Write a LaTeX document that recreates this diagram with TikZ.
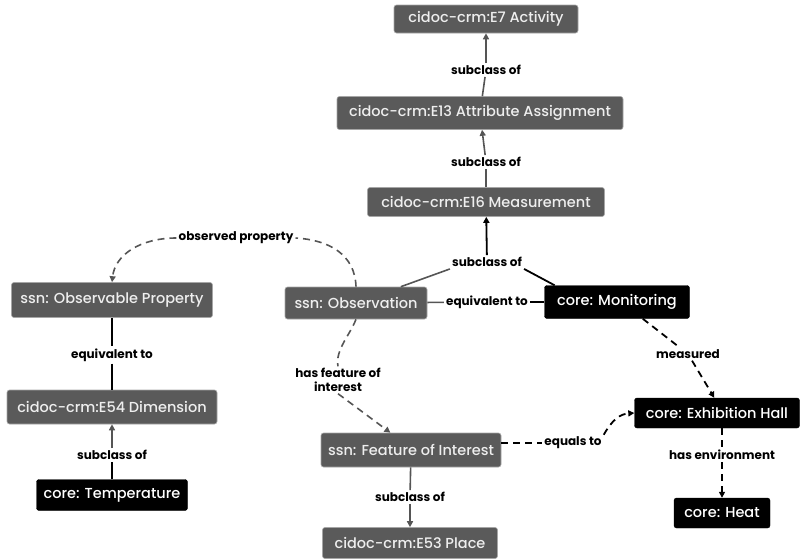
\documentclass[tikz,border=0pt]{standalone}
\usepackage{fontspec}
\setmainfont{Poppins}
\newfontfamily\nodefont{Poppins Medium}
\usetikzlibrary{arrows.meta,calc}
\definecolor{nodegray}{HTML}{5A5A5A}
\definecolor{edgegray}{HTML}{555555}
\definecolor{txtlight}{HTML}{EEEEEE}
\tikzset{
  gbox/.style={draw=gray!70, line width=0.6pt, fill=nodegray, text=txtlight, rounded corners=2.5pt, inner sep=0pt, font=\nodefont\fontsize{14.5}{16}\selectfont},
  bbox/.style={draw=black, fill=black, text=white, rounded corners=2.5pt, inner sep=0pt, font=\nodefont\fontsize{14.5}{16}\selectfont},
  lab/.style={font=\fontsize{12}{13.5}\selectfont\bfseries, inner sep=2pt, align=center},
  gline/.style={draw=edgegray, line width=1.6pt},
  bline/.style={draw=black, line width=1.8pt},
  garr/.style={gline, -{Triangle[length=6pt,width=6pt]}},
  barr/.style={bline, -{Triangle[length=6pt,width=6pt]}},
  gdash/.style={gline, dash pattern=on 7pt off 5pt},
  bdash/.style={bline, dash pattern=on 7pt off 5pt},
}
\begin{document}
\begin{tikzpicture}[x=1pt,y=-1pt]
\useasboundingbox (0,0) rectangle (804,560);
% nodes
\node[gbox, minimum width=184pt, minimum height=28pt] (e7) at (486,19) {cidoc-crm:E7 Activity};
\node[gbox, minimum width=286pt, minimum height=33pt] (e13) at (480,113) {cidoc-crm:E13 Attribute Assignment};
\node[gbox, minimum width=237pt, minimum height=29pt] (e16) at (486,202) {cidoc-crm:E16 Measurement};
\node[gbox, minimum width=142pt, minimum height=32pt] (obs) at (356,303) {ssn: Observation};
\node[bbox, minimum width=145pt, minimum height=33pt] (mon) at (617,302) {core: Monitoring};
\node[bbox, minimum width=165pt, minimum height=30pt] (eh) at (717,413) {core: Exhibition Hall};
\node[bbox, minimum width=96pt, minimum height=30pt] (heat) at (722,513) {core: Heat};
\node[gbox, minimum width=180pt, minimum height=34pt] (foi) at (411,450) {ssn: Feature of Interest};
\node[gbox, minimum width=175pt, minimum height=31pt] (e53) at (410,543) {cidoc-crm:E53 Place};
\node[gbox, minimum width=201pt, minimum height=35pt] (op) at (112,300) {ssn: Observable Property};
\node[gbox, minimum width=210pt, minimum height=34pt] (e54) at (112,407) {cidoc-crm:E54 Dimension};
\node[bbox, minimum width=151pt, minimum height=31pt] (temp) at (112,495) {core: Temperature};
% labels
\node[lab] (l1) at (486,70) {subclass of};
\node[lab] (l2) at (486,162) {subclass of};
\node[lab] (l3) at (487,262) {subclass of};
\node[lab] (l4) at (487,302) {equivalent to};
\node[lab] (l5) at (688,354) {measured};
\node[lab] (l6) at (722,455) {has environment};
\node[lab] (l7) at (573,443) {equals to};
\node[lab] (l8) at (410,497) {subclass of};
\node[lab] (l9) at (338,380) {has feature of\\interest};
\node[lab] (l10) at (236,238) {observed property};
\node[lab] (l11) at (112,355) {equivalent to};
\node[lab] (l12) at (112,455) {subclass of};
% edges
\draw[gline] (e13) -- (l1);
\draw[garr] (l1) -- (e7);
\draw[gline] (e16) -- (l2);
\draw[garr] (l2) -- (e13);
\draw[gline] (obs.20) -- (l3.south west);
\draw[bline] (mon.165) -- (l3.south east);
\draw[barr] (l3) -- (e16);
\draw[gline] (obs) -- (l4);
\draw[bline] (l4) -- (mon);
\draw[bdash] (mon.-33) -- (l5);
\draw[bdash, -{Triangle[length=6pt,width=6pt]}] (l5) -- (eh.100);
\draw[bdash] (eh.south -| heat.north) -- (l6);
\draw[bdash, -{Triangle[length=6pt,width=6pt]}] (l6) -- (heat);
\draw[bdash] (foi.east |- l7.west) -- (l7.west);
\draw[bdash, -{Triangle[length=6pt,width=6pt]}] (l7.north east) .. controls (612,420) and (620,414) .. (eh.west);
\draw[gline] (foi) -- (l8);
\draw[garr] (l8) -- (e53);
\draw[gdash] (obs.south) .. controls (350,335) and (335,350) .. (l9.north);
\draw[gdash, -{Triangle[length=6pt,width=6pt]}] (l9.south) -- (foi.140);
\draw[gdash] (obs.north) .. controls (355,255) and (330,240) .. (l10.east);
\draw[gdash, -{Triangle[length=6pt,width=6pt]}] (l10.west) .. controls (140,238) and (115,255) .. (op.north);
\draw[bline] (op) -- (l11);
\draw[bline] (l11) -- (e54);
\draw[bline] (temp) -- (l12);
\draw[garr] (l12) -- (e54);
\end{tikzpicture}
\end{document}
